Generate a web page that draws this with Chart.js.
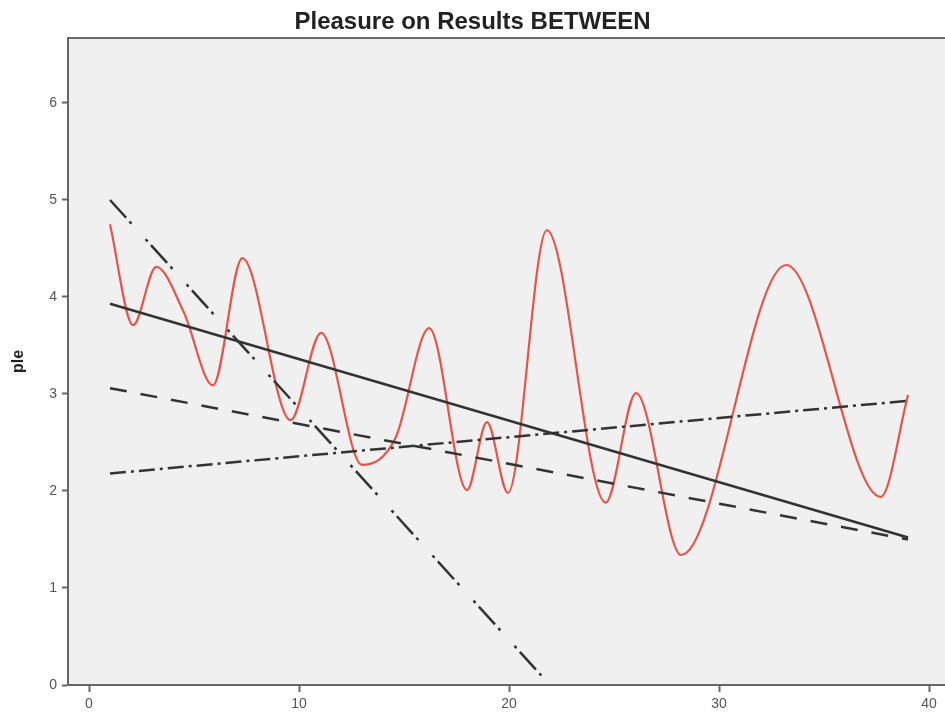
<!DOCTYPE html>
<html>
<head>
<meta charset="utf-8">
<script src="https://cdn.jsdelivr.net/npm/chart.js@4/dist/chart.umd.min.js"></script>
<style>
  html, body { margin: 0; padding: 0; background: #fff; }
  #wrap { width: 945px; height: 716px; }
</style>
</head>
<body>
<div id="wrap"><canvas id="chart" width="945" height="716"></canvas></div>
<script>
// smooth red curve (x, ple)
const curveX = [1, 2.1, 3.2, 4.5, 5.9, 7.3, 9.6, 11.05, 13.0, 14.6, 16.2, 18.0, 18.95, 19.95, 21.8, 24.6, 26.05, 28.2, 33.2, 37.7, 39];
const curveY = [4.75, 3.71, 4.31, 3.85, 3.09, 4.40, 2.73, 3.63, 2.27, 2.55, 3.68, 2.01, 2.71, 1.98, 4.69, 1.88, 3.01, 1.34, 4.33, 1.94, 2.99];

// fit lines, endpoints at x = 1 and x = 39
const lineX = [1, 39];
const solidY = [3.93, 1.52];
const dashedY = [3.06, 1.50];
const dashDotY = [2.18, 2.93];
const dashDotDotY = [5.0, -4.07];

const xTicks = [0, 10, 20, 30, 40];
const yTicks = [0, 1, 2, 3, 4, 5, 6];

const pts = (xs, ys) => xs.map((x, i) => ({ x: x, y: ys[i] }));

// grey plot area + top border
const plotBg = {
  id: 'plotBg',
  beforeDraw(chart) {
    const { ctx, chartArea: a } = chart;
    ctx.save();
    ctx.fillStyle = '#f0f0f0';
    ctx.fillRect(a.left, a.top, a.right - a.left, a.bottom - a.top);
    ctx.strokeStyle = '#6a6a6a';
    ctx.lineWidth = 2;
    ctx.beginPath();
    ctx.moveTo(a.left, a.top);
    ctx.lineTo(a.right, a.top);
    ctx.stroke();
    ctx.restore();
  }
};

const fitLine = (ys, dash) => ({
  data: pts(lineX, ys),
  borderColor: '#333',
  borderWidth: 2.5,
  borderDash: dash,
  pointRadius: 0,
  fill: false
});

new Chart(document.getElementById('chart').getContext('2d'), {
  type: 'line',
  data: {
    datasets: [
      fitLine(solidY, []),
      fitLine(dashedY, [17, 14]),
      fitLine(dashDotY, [16, 5, 3, 5]),
      fitLine(dashDotDotY, [24, 5, 3, 21, 3, 5]),
      {
        data: pts(curveX, curveY),
        borderColor: '#e6544a',
        borderWidth: 2.2,
        cubicInterpolationMode: 'monotone',
        pointRadius: 0,
        fill: false
      }
    ]
  },
  options: {
    responsive: false,
    animation: false,
    layout: { padding: 0 },
    plugins: {
      legend: { display: false },
      tooltip: { enabled: false },
      title: {
        display: true,
        text: 'Pleasure on Results BETWEEN',
        color: '#222',
        font: { family: 'Liberation Sans, Arial, sans-serif', size: 24, weight: 'bold', lineHeight: 1.2 },
        padding: { top: 8, bottom: 1.2 }
      }
    },
    scales: {
      x: {
        type: 'linear',
        min: -1,
        max: 40.76,
        afterFit(s) { s.height = 31; },
        afterBuildTicks(s) { s.ticks = xTicks.map(v => ({ value: v })); },
        ticks: { color: '#555', padding: 4, font: { family: 'Liberation Sans, Arial, sans-serif', size: 14 } },
        grid: { drawOnChartArea: false, drawTicks: true, tickLength: 7, tickColor: '#666', tickWidth: 2 },
        border: { display: true, color: '#666', width: 2 }
      },
      y: {
        type: 'linear',
        min: 0,
        max: 6.67,
        afterFit(s) { s.width = 68; },
        afterBuildTicks(s) { s.ticks = yTicks.map(v => ({ value: v })); },
        ticks: { color: '#555', padding: 5, font: { family: 'Liberation Sans, Arial, sans-serif', size: 14 } },
        grid: { drawOnChartArea: false, drawTicks: true, tickLength: 6, tickColor: '#666', tickWidth: 2 },
        border: { display: true, color: '#666', width: 2 },
        title: {
          display: true,
          text: 'ple',
          color: '#222',
          padding: { top: 9, bottom: 0 },
          font: { family: 'Liberation Sans, Arial, sans-serif', size: 16, weight: 'bold' }
        }
      }
    }
  },
  plugins: [plotBg]
});
</script>
</body>
</html>
